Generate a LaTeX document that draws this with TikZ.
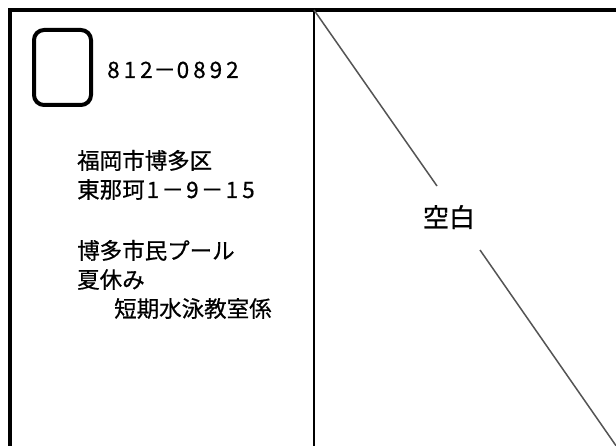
\documentclass[tikz,border=0pt]{standalone}
\usepackage{fontspec}
\setmainfont{Noto Sans CJK JP}[FakeBold=0.6]
\newcommand\dd[1]{\makebox[16.5pt]{#1}}
\newcommand\mn{\makebox[23pt]{－}}
\newcommand\mnp{\makebox[20pt]{－}}
\begin{document}
\begin{tikzpicture}[x=1pt,y=-1pt,
  frame/.style={line width=4pt},
  divider/.style={line width=2pt},
  diag/.style={draw=black!67,line width=1.5pt},
  addr/.style={anchor=base west,inner sep=0pt,font=\fontsize{22.5}{27}\selectfont},
  stampbox/.style={draw,line width=4pt,rounded corners=10pt,minimum width=57pt,minimum height=75pt,inner sep=0pt}]
\useasboundingbox (0,0) rectangle (616,446);
\clip (0,0) rectangle (616,446);
\fill[white] (0,0) rectangle (616,446);
% frame
\draw[frame] (9.5,460) -- (9.5,10) -- (630,10);
\coordinate (dt) at (314,10);
\coordinate (db) at (314,460);
\draw[divider] (dt) -- (db);
% diagonal
\coordinate (g1) at (437,186);
\coordinate (g2) at (480,250);
\coordinate (br) at (619,450);
\draw[diag] (dt) -- (g1);
\draw[diag] (g2) -- (br);
\node[anchor=base,inner sep=0pt,font=\fontsize{26}{30}\selectfont] (blank) at (449,227) {空白};
% stamp
\node[stampbox] (stamp) at (62.5,67.5) {};
\node[addr] (zip) at (105,78) {\dd{8}\dd{1}\dd{2}\mnp\dd{0}\dd{8}\dd{9}\dd{2}};
\node[addr] (a1) at (77,169) {福岡市博多区};
\node[addr] (a2) at (77,198) {東那珂\dd{1}\mn\dd{9}\mn\dd{1}\dd{5}};
\node[addr] (a3) at (77,259) {博多市民プール};
\node[addr] (a4) at (77,288) {夏休み};
\node[addr] (a5) at (114,317) {短期水泳教室係};
\end{tikzpicture}
\end{document}
